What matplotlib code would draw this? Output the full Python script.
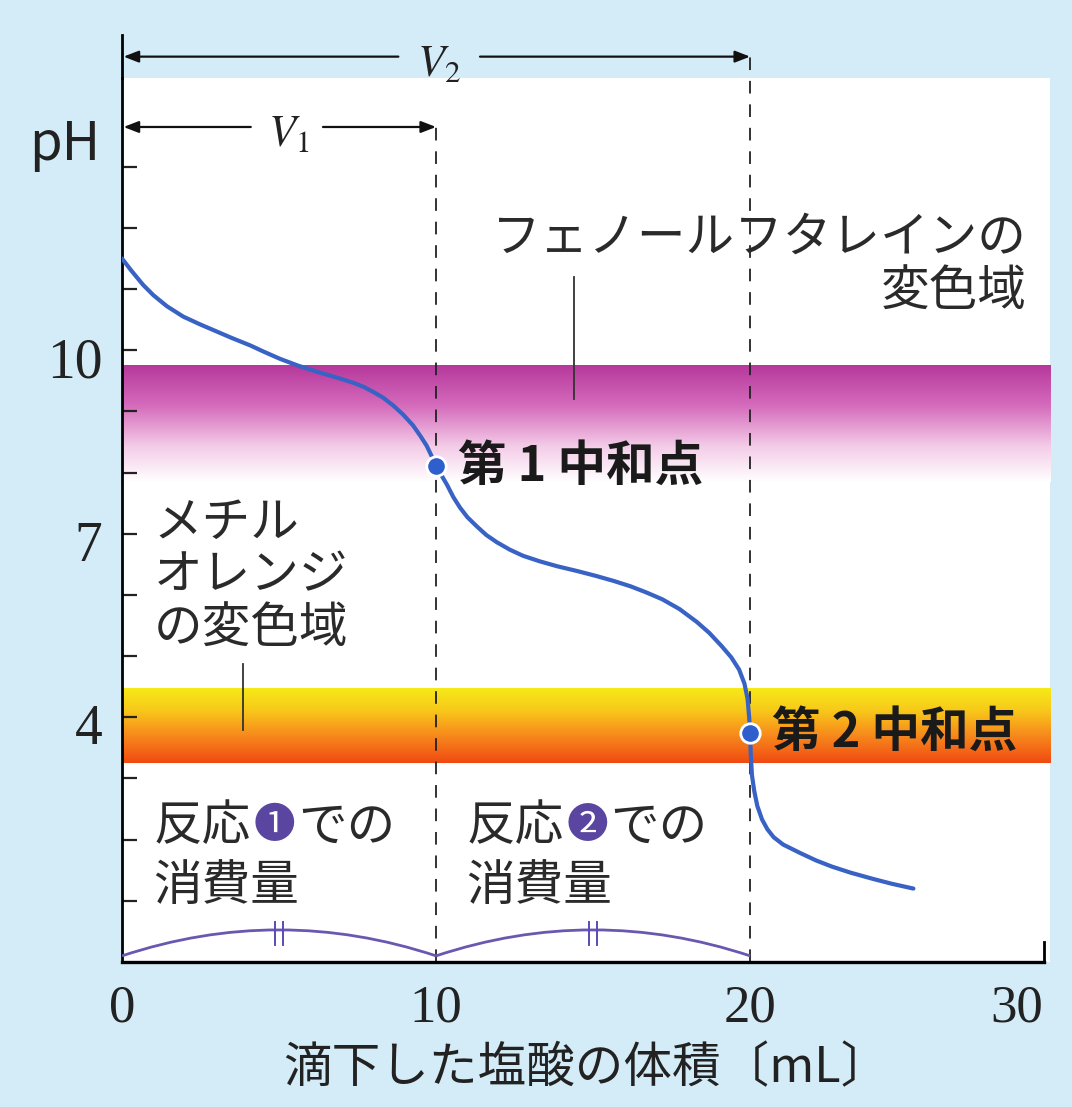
import matplotlib.pyplot as plt
import numpy as np
from matplotlib.colors import LinearSegmentedColormap
from matplotlib.patches import PathPatch
from matplotlib.path import Path
from matplotlib.transforms import ScaledTranslation

plt.rcParams['font.family'] = ['Noto Sans CJK JP', 'DejaVu Sans']
plt.rcParams['mathtext.fontset'] = 'stix'

# 滴下量(mL)とpH
volume = [0, 0.3, 0.67, 1.0, 1.43, 1.95, 2.5, 3.0, 3.5, 4.08, 4.5, 5.03, 5.6, 6.2, 6.8,
          7.36, 7.7, 8.0, 8.3, 8.63, 8.95, 9.27, 9.5, 9.7, 9.85, 10.0, 10.18, 10.35, 10.55,
          10.76, 11.0, 11.3, 11.6, 11.94, 12.35, 12.77, 13.3, 13.85, 14.5, 15.1, 15.65,
          16.2, 16.7, 17.2, 17.75, 18.3, 18.7, 19.1, 19.4, 19.65, 19.82, 19.92, 19.97,
          20.0, 20.02, 20.06, 20.13, 20.23, 20.38, 20.55, 20.75, 21.05, 21.6, 22.1, 22.6,
          23.2, 23.9, 24.5, 25.2]
ph = [11.5, 11.3, 11.07, 10.9, 10.72, 10.55, 10.42, 10.31, 10.2, 10.08, 9.98, 9.86, 9.75,
      9.65, 9.56, 9.47, 9.4, 9.32, 9.23, 9.1, 8.95, 8.77, 8.6, 8.44, 8.28, 8.1, 7.95, 7.8,
      7.6, 7.43, 7.27, 7.12, 6.98, 6.86, 6.74, 6.64, 6.55, 6.47, 6.39, 6.31, 6.23,
      6.14, 6.04, 5.93, 5.77, 5.56, 5.38, 5.16, 4.98, 4.78, 4.55, 4.3, 4.0,
      3.75, 3.4, 3.05, 2.8, 2.55, 2.33, 2.17, 2.04, 1.92, 1.78, 1.66, 1.56,
      1.46, 1.36, 1.28, 1.2]

eq_volume = [10, 20]
eq_ph = [8.1, 3.75]
eq_labels = ["第 1 中和点", "第 2 中和点"]

phenol_range = (7.85, 9.75)   # フェノールフタレインの変色域
methyl_range = (3.25, 4.47)   # メチルオレンジの変色域

x_ticks = [0, 10, 20, 28.5]
x_tick_labels = ["0", "10", "20", "30"]
y_ticks = [4, 7, 10]
y_minor = [1, 2, 3, 5, 6, 8, 9, 11, 12, 13]

xmax, ymax = 29.55, 14.45
bg = "#d4ecf7"

fig = plt.figure(figsize=(10.72, 11.07), dpi=100, facecolor=bg)
ax = fig.add_axes([0.1138, 0.131, 0.8657, 0.7985])
ax.set_facecolor("white")
ax.set_xlim(0, xmax)
ax.set_ylim(0, ymax)

# 変色域のグラデーション
grad = np.linspace(0, 1, 256).reshape(-1, 1)
cmap_p = LinearSegmentedColormap.from_list(
    "p", [(0, "#ffffff"), (0.3, "#f4cde8"), (0.65, "#d56cbc"), (1.0, "#b6389c")])
cmap_m = LinearSegmentedColormap.from_list(
    "m", [(0, "#f04a12"), (0.35, "#f7861c"), (0.7, "#f8c81a"), (1.0, "#f6ea18")])
ax.imshow(grad, cmap=cmap_p, origin="lower", aspect="auto",
          extent=[0, xmax, phenol_range[0], phenol_range[1]], zorder=1)
ax.imshow(grad, cmap=cmap_m, origin="lower", aspect="auto",
          extent=[0, xmax, methyl_range[0], methyl_range[1]], zorder=1)

# 破線
ax.plot([10, 10], [0, 13.65], color="#222222", lw=1.3, ls=(0, (7, 6)), zorder=2, clip_on=False)
ax.plot([20, 20], [0, 14.8], color="#222222", lw=1.3, ls=(0, (7, 6)), zorder=2, clip_on=False)

# 滴定曲線
ax.plot(volume, ph, color="#3862c4", lw=3, zorder=4, solid_capstyle="round",
        solid_joinstyle="round")
ax.plot(eq_volume, eq_ph, "o", color="#2f5fcc", ms=14, mec="white", mew=2, zorder=5)
for v, p, lab in zip(eq_volume, eq_ph, eq_labels):
    ax.text(v + 0.7, p, lab, fontsize=35, fontweight="bold", ha="left", va="center",
            color="#1a1a1a", zorder=6)

# V1, V2 の矢印
arrow_kw = dict(arrowstyle="-|>,head_length=0.9,head_width=0.35", color="#111111", lw=1.6,
                shrinkA=0, shrinkB=0)
for y, left_end, right_start, tip, lab, lx in [(14.8, 8.8, 11.4, 20.0, "$V_2$", 10.1),
                                                (13.65, 4.1, 6.4, 10.0, "$V_1$", 5.3)]:
    ax.annotate("", xy=(0.05, y), xytext=(left_end, y), arrowprops=arrow_kw,
                annotation_clip=False, zorder=6)
    ax.annotate("", xy=(tip, y), xytext=(right_start, y), arrowprops=arrow_kw,
                annotation_clip=False, zorder=6)
    ax.text(lx, y - 0.1, lab, fontsize=32, ha="center", va="center", color="#222222",
            clip_on=False)

# 注記
txt = dict(fontsize=35, color="#2a2a2a", zorder=6)
ax.text(28.8, 11.84, "フェノールフタレインの", ha="right", va="center", **txt)
ax.text(28.8, 10.95, "変色域", ha="right", va="center", **txt)
ax.plot([14.4, 14.4], [9.21, 11.2], color="#333333", lw=1.3, zorder=3)
ax.text(1.0, 7.18, "メチル", ha="left", va="center", **txt)
ax.text(1.0, 6.31, "オレンジ", ha="left", va="center", **txt)
ax.text(1.0, 5.44, "の変色域", ha="left", va="center", **txt)
ax.plot([3.85, 3.85], [3.8, 4.87], color="#333333", lw=1.3, zorder=3)

for x0, num in [(1.0, "❶"), (10.96, "❷")]:
    ax.annotate("反応", (x0, 2.21), ha="left", va="center", **txt)
    ax.annotate(num, (x0, 2.21), xytext=(72, 0), textcoords="offset points",
                ha="left", va="center", fontsize=30, color="#5a46a0", zorder=6)
    ax.annotate("での", (x0, 2.21), xytext=(104, 0), textcoords="offset points",
                ha="left", va="center", **txt)
    ax.text(x0, 1.23, "消費量", ha="left", va="center", **txt)

# 消費量を示す弧
for a, b in [(0, 10), (10, 20)]:
    m = (a + b) / 2
    path = Path([(a, 0.1), (m, 0.95), (b, 0.1)], [Path.MOVETO, Path.CURVE3, Path.CURVE3])
    ax.add_patch(PathPatch(path, fill=False, ec="#6a58b0", lw=2, zorder=3))
    for dx in (-0.12, 0.12):
        ax.plot([m + dx, m + dx], [0.28, 0.66], color="#5a4ab8", lw=1.4, zorder=3)

# 軸
for s in ["top", "right"]:
    ax.spines[s].set_visible(False)
ax.spines["left"].set_linewidth(2)
ax.spines["bottom"].set_linewidth(2.4)
ax.spines["bottom"].set_bounds(0, 29.35)
ax.plot([0, 0], [ymax, 15.15], color="black", lw=2, clip_on=False, zorder=6)
ax.plot([29.35, 29.35], [0, 0.32], color="black", lw=2, clip_on=False, zorder=6)

ax.set_xticks(x_ticks, x_tick_labels, fontfamily="Liberation Serif", fontsize=38)
ax.set_yticks(y_ticks, [str(t) for t in y_ticks], fontfamily="Liberation Serif", fontsize=40)
ax.set_yticks(y_minor, minor=True)
ax.tick_params(axis="x", length=0, pad=16, colors="#222222")
ax.tick_params(axis="y", which="both", direction="in", length=11, width=1.6, pad=14,
               colors="#222222")
shift = ScaledTranslation(0, -5 / 72, fig.dpi_scale_trans)
for lab in ax.get_yticklabels():
    lab.set_transform(lab.get_transform() + shift)

ax.text(-0.062, 13.36, "pH", transform=ax.get_yaxis_transform(), fontsize=38,
        ha="center", va="center", color="#222222", clip_on=False)
ax.set_xlabel("滴下した塩酸の体積〔mL〕", fontsize=35, color="#222222", labelpad=8)

fig.savefig("out.png", dpi=100, facecolor=bg)
